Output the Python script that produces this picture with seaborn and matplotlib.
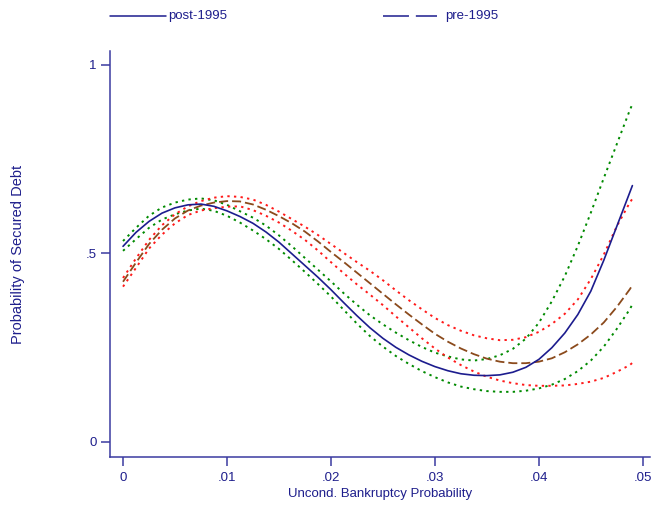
import matplotlib
matplotlib.use("Agg")
import matplotlib.pyplot as plt
from matplotlib.lines import Line2D
import seaborn as sns
import pandas as pd

# ---- data ----
x_vals = [0.0, 0.00125, 0.0025, 0.00375, 0.005, 0.00625, 0.0075, 0.00875,
          0.01, 0.01125, 0.0125, 0.01375, 0.015, 0.01625, 0.0175, 0.01875,
          0.02, 0.02125, 0.0225, 0.02375, 0.025, 0.02625, 0.0275, 0.02875,
          0.03, 0.03125, 0.0325, 0.03375, 0.035, 0.03625, 0.0375, 0.03875,
          0.04, 0.04125, 0.0425, 0.04375, 0.045, 0.04625, 0.0475, 0.04875, 0.049]

post_fit = [0.519, 0.556, 0.585, 0.607, 0.621, 0.629, 0.631, 0.625,
            0.613, 0.598, 0.580, 0.557, 0.530, 0.499, 0.468, 0.437,
            0.404, 0.369, 0.335, 0.303, 0.275, 0.251, 0.231, 0.214,
            0.200, 0.189, 0.181, 0.177, 0.176, 0.178, 0.185, 0.198,
            0.219, 0.250, 0.289, 0.338, 0.400, 0.482, 0.572, 0.662, 0.680]
post_hi = [0.533, 0.568, 0.600, 0.622, 0.635, 0.643, 0.646, 0.641,
           0.629, 0.612, 0.595, 0.574, 0.548, 0.519, 0.488, 0.457,
           0.426, 0.394, 0.364, 0.336, 0.312, 0.290, 0.270, 0.252,
           0.237, 0.227, 0.219, 0.216, 0.220, 0.230, 0.247, 0.274,
           0.316, 0.373, 0.440, 0.520, 0.608, 0.700, 0.790, 0.880, 0.896]
post_lo = [0.507, 0.538, 0.568, 0.590, 0.604, 0.614, 0.619, 0.613,
           0.600, 0.582, 0.561, 0.538, 0.512, 0.482, 0.451, 0.419,
           0.386, 0.350, 0.314, 0.281, 0.253, 0.228, 0.207, 0.188,
           0.172, 0.158, 0.147, 0.140, 0.135, 0.133, 0.133, 0.136,
           0.142, 0.152, 0.167, 0.188, 0.216, 0.253, 0.300, 0.352, 0.365]

pre_fit = [0.425, 0.476, 0.525, 0.563, 0.593, 0.614, 0.627, 0.635,
           0.639, 0.638, 0.630, 0.616, 0.599, 0.580, 0.558, 0.532,
           0.504, 0.477, 0.449, 0.421, 0.393, 0.365, 0.338, 0.312,
           0.287, 0.266, 0.248, 0.233, 0.221, 0.213, 0.209, 0.209,
           0.213, 0.222, 0.238, 0.259, 0.285, 0.317, 0.358, 0.405, 0.416]
pre_hi = [0.435, 0.487, 0.536, 0.575, 0.604, 0.625, 0.639, 0.648,
          0.652, 0.650, 0.643, 0.629, 0.611, 0.591, 0.571, 0.549,
          0.525, 0.501, 0.477, 0.454, 0.429, 0.402, 0.376, 0.352,
          0.329, 0.310, 0.295, 0.283, 0.275, 0.270, 0.271, 0.278,
          0.292, 0.313, 0.340, 0.378, 0.432, 0.497, 0.572, 0.635, 0.645]
pre_lo = [0.412, 0.462, 0.513, 0.550, 0.580, 0.602, 0.614, 0.620,
          0.624, 0.625, 0.615, 0.600, 0.582, 0.560, 0.536, 0.508,
          0.477, 0.447, 0.418, 0.391, 0.363, 0.333, 0.304, 0.275,
          0.248, 0.224, 0.204, 0.187, 0.173, 0.163, 0.156, 0.151,
          0.149, 0.149, 0.150, 0.154, 0.160, 0.170, 0.186, 0.204, 0.210]

x_ticks = [0, 0.01, 0.02, 0.03, 0.04, 0.05]
x_tick_labels = ["0", ".01", ".02", ".03", ".04", ".05"]
y_ticks = [0, 0.5, 1]
y_tick_labels = ["0", ".5", "1"]
legend_labels = ["post-1995", "pre-1995"]

# ---- style ----
sns.set_style("ticks")
plt.rcParams["font.family"] = ["Liberation Sans", "DejaVu Sans"]

NAVY = "#1c1c8e"
AXC = "#3a3aa0"
TXT = "#1e1e8c"

fig = plt.figure(figsize=(6.53, 5.08), dpi=100)
ax = fig.add_axes([0.1685, 0.1004, 0.827, 0.7992])

DOT = (0, (1.2, 2.2))
series = [
    (post_hi, "#008a00", DOT, 1.4),
    (post_lo, "#008a00", DOT, 1.4),
    (pre_hi, "#ff1a1a", DOT, 1.4),
    (pre_lo, "#ff1a1a", DOT, 1.4),
    (pre_fit, "#8b4a1c", (0, (5, 2.2)), 1.3),
    (post_fit, NAVY, "-", 1.2),
]
for yv, col, ls, lw in series:
    df = pd.DataFrame({"x": x_vals, "y": yv})
    sns.lineplot(data=df, x="x", y="y", ax=ax, color=col, linestyle=ls,
                 linewidth=lw, sort=False, estimator=None)

ax.set_xlim(-0.00125, 0.0507)
ax.set_ylim(-0.0398, 1.037)
ax.set_xticks(x_ticks)
ax.set_xticklabels(x_tick_labels)
ax.set_yticks(y_ticks)
ax.set_yticklabels(y_tick_labels)

for s in ["top", "right"]:
    ax.spines[s].set_visible(False)
for s in ["left", "bottom"]:
    ax.spines[s].set_color(AXC)
    ax.spines[s].set_linewidth(1.1)

ax.tick_params(axis="both", direction="out", length=6.5, width=1.1,
               color=AXC, labelcolor=TXT, labelsize=9.5)
ax.tick_params(axis="x", pad=4)
ax.tick_params(axis="y", pad=3)

ax.set_xlabel("Uncond. Bankruptcy Probability", color=TXT, fontsize=9.5, labelpad=3)
ax.set_ylabel("Probability of Secured Debt", color=TXT, fontsize=10.5)
ax.yaxis.set_label_coords(-0.157, 0.5)

# ---- legend (top, outside the plot) ----
W, H = 653.0, 508.0
ly = 1 - 16 / H
fig.add_artist(Line2D([110 / W, 166 / W], [ly, ly], color=NAVY, lw=1.1,
                      transform=fig.transFigure))
fig.text(168 / W, ly, legend_labels[0], color=TXT, fontsize=9.5, va="center", ha="left")
fig.add_artist(Line2D([383 / W, 437 / W], [ly, ly], color=NAVY, lw=1.1,
                      linestyle=(0, (17, 4.5)), transform=fig.transFigure))
fig.text(445 / W, ly, legend_labels[1], color=TXT, fontsize=9.5, va="center", ha="left")

fig.savefig("out.png", dpi=100, facecolor="white")
